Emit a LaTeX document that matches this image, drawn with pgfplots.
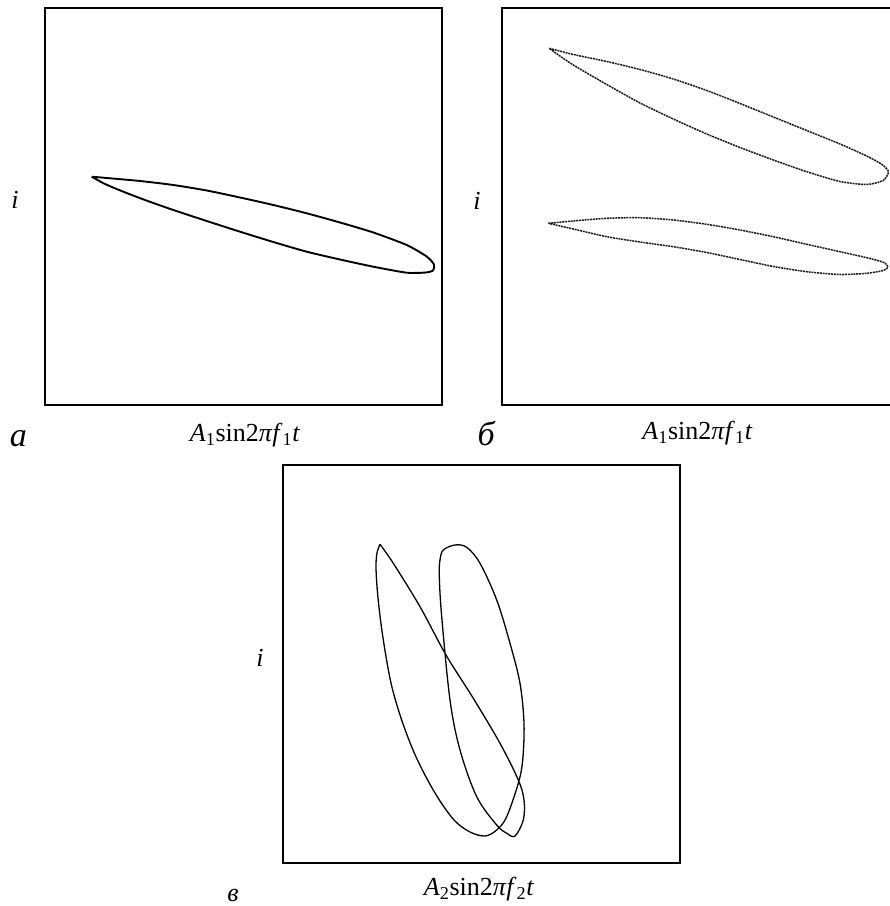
\documentclass[border=0pt]{standalone}
\usepackage{fontspec}
\setmainfont{Liberation Serif}
\usepackage{pgfplots}
\pgfplotsset{compat=1.18}
\newcommand{\labfont}{\fontsize{26}{30}\selectfont}
\newcommand{\panfont}{\fontsize{34}{40}\selectfont}
\newcommand{\xl}[2]{\textit{A}\textsubscript{#1}sin2\textit{π}\textit{f}\textsubscript{#2}\textit{t}}
\pgfplotsset{lis/.style={width=397pt,height=397pt,scale only axis,
  xmin=0,xmax=397,ymin=0,ymax=397,xtick=\empty,ytick=\empty,
  axis line style={line width=2.6pt},anchor=south west}}
\begin{document}
\begin{tikzpicture}
\path[use as bounding box] (0pt,0pt) rectangle (890pt,906pt);
% panel a
\begin{axis}[lis,at={(45pt,501pt)}]
\addplot[black,line width=1.9pt,smooth,tension=0.4] coordinates {
(46.7,228.3) (61.7,227) (95,224) (128.3,220) (161.7,214.5) (195,207.5) (228.3,200)
(261.7,191.7) (295,182.5) (328.3,172.5) (361.7,160) (381.7,148.5) (389,140.5)
(388,134.5) (381,132.5) (361.7,132.3) (328.3,138.3) (295,145.5) (261.7,153.3)
(228.3,163) (195,173.3) (161.7,184) (128.3,195) (100,205) (78.3,213.3) (60,221) (46.7,228.3)};
\end{axis}
% panel b
\begin{axis}[lis,at={(502pt,501pt)}]
\addplot[black!90,line width=1.5pt,dash pattern=on 2pt off 0.8pt,smooth,tension=0.4] coordinates {
(47.3,356.7) (71.3,350.5) (104.7,343.5) (138,335.5) (171.3,326) (204.7,314.5)
(238,301.5) (271.3,288) (304.7,274.5) (338,261) (364.7,249) (380,240.5)
(386.5,233.3) (381.3,224.5) (364.7,220.5) (338,223.5) (304.7,233.3) (271.3,245)
(238,257.5) (204.7,271) (171.3,286) (138,302) (104.7,320.5) (71.3,340) (55,351) (47.3,356.7)};
\addplot[black!90,line width=1.5pt,dash pattern=on 2pt off 0.8pt,smooth,tension=0.4] coordinates {
(46.3,181.7) (71.3,184) (104.7,186.7) (138,187.3) (171.3,185) (204.7,180.7)
(238,175) (271.3,168.3) (304.7,160.7) (338,153.3) (364.7,147.3) (382,142.5)
(386,138) (381.3,134.5) (364.7,131.7) (338,130.5) (304.7,133.3) (271.3,138.5) (238,145.5)
(204.7,152.5) (171.3,158.3) (138,163) (104.7,168.3) (71.3,176) (46.3,181.7)};
\end{axis}
% panel v
\begin{axis}[lis,at={(283pt,43pt)},height=398pt,ymax=398]
\addplot[black,line width=1.3pt,smooth,tension=0.55] coordinates {
(97,318.7) (110.3,299.7) (137,256.3) (163,208) (190.3,164.7) (217,119.7)
(235.3,83) (241,63) (240.3,43) (232,27) (223.7,29.7) (213.7,38) (193.7,66.3)
(177,113) (167,163) (158.7,246.3) (156.3,286.3) (157,303) (160.3,313) (172,318)
(183.7,315.7) (197,299.7) (213.7,263) (227,219.7) (237,179.7) (241,139.7)
(239.7,103) (235.3,79.7) (223.7,46.3) (213.7,33) (202,27) (187,31) (172,42)
(157,62) (143,86) (130,113) (118,145) (108,180) (100,225) (95,265) (93,295)
(94,310) (97,318.7)};
\end{axis}
% labels
\node[anchor=base] at (15pt,697pt) {\labfont\textit{i}};
\node[anchor=base] at (18.3pt,459.5pt) {\panfont\textit{а}};
\node[anchor=base] at (245pt,464pt) {\labfont\xl{1}{1}};
\node[anchor=base] at (477pt,696.5pt) {\labfont\textit{i}};
\node[anchor=base] at (486.7pt,460pt) {\panfont\textit{б}};
\node[anchor=base] at (697.5pt,466pt) {\labfont\xl{1}{1}};
\node[anchor=base] at (260pt,239.5pt) {\labfont\textit{i}};
\node[anchor=base,inner sep=0pt] at (233pt,5pt) {\labfont\textit{в}};
\node[anchor=base] at (479pt,10pt) {\labfont\xl{2}{2}};
\end{tikzpicture}
\end{document}
